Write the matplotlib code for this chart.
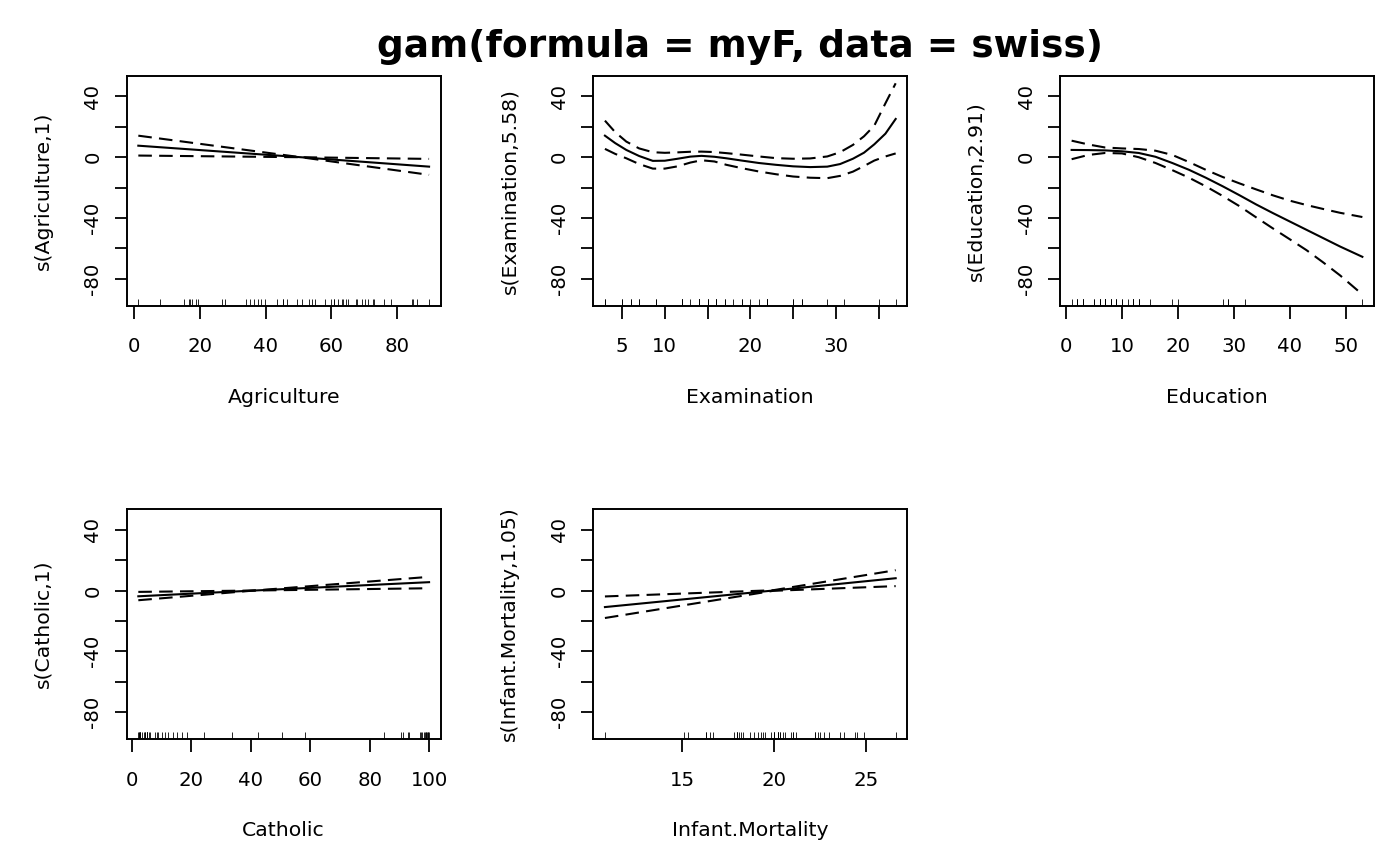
#!/usr/bin/env python3
# -*- coding: utf-8 -*-
# re-draw of mgcv plot.gam output for gam(myF, data=swiss)

import matplotlib
matplotlib.use("Agg")
import matplotlib.pyplot as plt
import matplotlib.transforms as mtransforms

###########################################################################
# data: covariates of the swiss data set (used for the rugs)

agriculture = [17.0, 45.1, 39.7, 36.5, 43.5, 35.3, 70.2, 67.8, 53.3, 45.2, 64.5, 62.0,
               67.5, 60.7, 69.3, 72.6, 34.0, 19.4, 15.2, 73.0, 59.8, 55.1, 50.9, 54.1,
               71.2, 58.1, 63.5, 60.8, 26.8, 49.5, 85.9, 84.9, 89.7, 78.2, 64.9, 75.9,
               84.6, 63.1, 38.4, 7.7, 16.7, 17.6, 37.6, 18.7, 1.2, 46.6, 27.7]
examination = [15, 6, 5, 12, 17, 9, 16, 14, 12, 16, 14, 21, 14, 19, 22, 18, 17, 26, 31,
               19, 22, 14, 22, 20, 12, 14, 6, 16, 25, 15, 3, 7, 5, 12, 7, 9, 3, 13, 26,
               29, 22, 35, 15, 25, 37, 16, 22]
education = [12, 9, 5, 7, 15, 7, 7, 8, 7, 13, 6, 12, 7, 12, 5, 2, 8, 28, 20, 9, 10, 3,
             12, 6, 1, 8, 3, 10, 19, 8, 2, 6, 2, 6, 3, 9, 3, 13, 12, 11, 13, 32, 7, 7,
             53, 29, 29]
catholic = [9.96, 84.84, 93.40, 33.77, 5.16, 90.57, 92.85, 97.16, 97.67, 91.38, 98.61,
            8.52, 2.27, 4.43, 2.82, 24.20, 3.30, 12.11, 2.15, 2.84, 5.23, 4.52, 15.14,
            4.20, 2.40, 5.23, 2.56, 7.72, 18.46, 6.10, 99.71, 99.68, 100.00, 98.96,
            98.22, 99.06, 99.46, 96.83, 5.62, 13.79, 11.22, 16.92, 4.97, 8.65, 42.34,
            50.43, 58.33]
infant_mortality = [22.2, 22.2, 20.2, 20.3, 20.6, 26.6, 23.6, 24.9, 21.0, 24.4, 24.5,
                    16.5, 19.1, 22.7, 18.7, 21.2, 20.0, 20.2, 10.8, 20.0, 18.0, 22.4,
                    16.7, 15.3, 21.0, 23.8, 18.0, 16.3, 20.9, 22.5, 15.1, 19.8, 18.3,
                    19.4, 20.2, 17.8, 16.3, 18.1, 20.3, 20.5, 18.9, 23.0, 20.0, 19.5,
                    18.0, 18.2, 19.3]

# smooth estimates: x, fit, fit+2se, fit-2se

agri_x = [1.2, 50.66, 89.7]
agri_fit = [7.6, 0.0, -6.2]
agri_up = [14.2, 0.0, -1.1]
agri_lo = [1.1, 0.0, -11.6]

exam_x = [3, 4.2, 5.5, 7, 8.6, 10, 11.5, 13, 14.3, 15.8, 17.2, 19, 21, 23, 25, 27, 29,
          30.5, 32, 33.3, 34.5, 35.8, 37]
exam_fit = [14.2, 9.3, 4.8, 0.8, -2.4, -2.3, -1.0, 0.4, 0.9, 0.3, -0.7, -2.2, -3.8,
            -5.0, -6.0, -6.5, -6.2, -4.5, -1.0, 3.0, 8.5, 15.5, 25.2]
exam_up = [24.1, 16.5, 10.3, 5.8, 3.3, 2.9, 3.2, 3.6, 3.7, 3.4, 2.7, 1.7, 0.5, -0.6,
           -1.0, -0.8, 0.5, 3.3, 8.1, 13.8, 20.8, 35.5, 48.7]
exam_lo = [5.5, 2.2, -0.7, -4.5, -7.5, -7.5, -6.0, -3.5, -2.0, -2.8, -5.0, -7.2, -9.4,
           -11.2, -12.7, -13.5, -13.8, -12.3, -9.5, -5.8, -2.2, 0.5, 2.5]

educ_x = [1, 4, 7, 10, 13, 16, 19, 22, 25, 28, 31, 34, 37, 40, 43, 46, 49, 53]
educ_fit = [4.8, 4.7, 4.5, 3.9, 2.8, 0.3, -3.8, -8.3, -13.5, -19.1, -25.0, -31.1,
            -36.8, -42.3, -47.8, -53.3, -58.8, -65.6]
educ_up = [10.9, 8.4, 6.4, 5.8, 5.4, 4.3, 1.5, -3.2, -8.3, -13.0, -17.2, -21.2, -25.1,
           -28.6, -31.5, -34.1, -36.6, -39.4]
educ_lo = [-1.3, 1.5, 2.8, 2.5, 0.0, -3.8, -8.5, -13.5, -19.2, -25.5, -32.2, -39.6,
           -46.9, -54.0, -61.2, -69.3, -77.8, -90.4]

cath_x = [2.15, 41.14, 100.0]
cath_fit = [-3.8, 0.0, 5.5]
cath_up = [-0.9, 0.0, 9.0]
cath_lo = [-6.4, 0.0, 1.5]

infm_x = [10.8, 19.94, 26.6]
infm_fit = [-10.9, 0.0, 8.1]
infm_up = [-3.9, 0.2, 13.4]
infm_lo = [-18.1, -0.2, 2.9]

# axis ticks / labels
y_ticks = [-80, -60, -40, -20, 0, 20, 40]
y_ticklabels = ['-80', '', '-40', '', '0', '', '40']

title = "gam(formula = myF, data = swiss)"

panels = [
    dict(name='Agriculture', ylab='s(Agriculture,1)', rug=agriculture,
         x=agri_x, fit=agri_fit, up=agri_up, lo=agri_lo,
         ticks=[0, 20, 40, 60, 80], labels=['0', '20', '40', '60', '80']),
    dict(name='Examination', ylab='s(Examination,5.58)', rug=examination,
         x=exam_x, fit=exam_fit, up=exam_up, lo=exam_lo,
         ticks=[5, 10, 15, 20, 25, 30, 35], labels=['5', '10', '', '20', '', '30', '']),
    dict(name='Education', ylab='s(Education,2.91)', rug=education,
         x=educ_x, fit=educ_fit, up=educ_up, lo=educ_lo,
         ticks=[0, 10, 20, 30, 40, 50], labels=['0', '10', '20', '30', '40', '50']),
    dict(name='Catholic', ylab='s(Catholic,1)', rug=catholic,
         x=cath_x, fit=cath_fit, up=cath_up, lo=cath_lo,
         ticks=[0, 20, 40, 60, 80, 100], labels=['0', '20', '40', '60', '80', '100']),
    dict(name='Infant.Mortality', ylab='s(Infant.Mortality,1.05)', rug=infant_mortality,
         x=infm_x, fit=infm_fit, up=infm_up, lo=infm_lo,
         ticks=[15, 20, 25], labels=['15', '20', '25']),
]

###########################################################################
# layout (pixels, measured on the 1400x866 reference)

W, H = 1400, 866
col_left = [126.7, 593.3, 1060.0]
col_width = 314.0
row_top = [75.7, 509.0]
row_height = 230.0

y_lim = (-97.8, 53.7)
line_w = 1.5
dash = (6.5, 3.5)

plt.rcParams.update({'font.family': 'DejaVu Sans'})
plt.rcParams.update({'xtick.labelsize': 14.2})
plt.rcParams.update({'ytick.labelsize': 14.2})
plt.rcParams.update({'axes.labelsize': 14.7})

fig = plt.figure(figsize=(W / 100, H / 100), dpi=100)

for i, p in enumerate(panels):
    r, c = divmod(i, 3)
    left = col_left[c] / W
    bottom = (H - row_top[r] - row_height) / H
    ax = fig.add_axes([left, bottom, col_width / W, row_height / H])

    # R style 4% extension of the data range
    xmin, xmax = min(p['rug']), max(p['rug'])
    ext = 0.04 * (xmax - xmin)
    ax.set_xlim(xmin - ext, xmax + ext)
    ax.set_ylim(*y_lim)

    ax.plot(p['x'], p['fit'], color='black', lw=line_w)
    ax.plot(p['x'], p['up'], color='black', lw=line_w, dashes=dash)
    ax.plot(p['x'], p['lo'], color='black', lw=line_w, dashes=dash)

    # rug along the bottom
    trans = mtransforms.blended_transform_factory(ax.transData, ax.transAxes)
    ax.vlines(p['rug'], 0, 0.03, transform=trans, color='black', lw=0.6)

    ax.set_xticks(p['ticks'])
    ax.set_xticklabels(p['labels'])
    ax.set_yticks(y_ticks)
    ax.set_yticklabels(y_ticklabels, rotation=90, va='center')

    ax.tick_params(axis='both', direction='out', length=9, width=1.3, color='black')
    ax.tick_params(axis='x', pad=13.8)
    ax.tick_params(axis='y', pad=8.6)
    for sp in ax.spines.values():
        sp.set_linewidth(1.4)

    ax.set_xlabel(p['name'], va='baseline')
    ax.xaxis.set_label_coords(0.5, -0.4225)
    ax.set_ylabel(p['ylab'], va='center', ha='center')
    ax.yaxis.set_label_coords(-0.2666, 0.5)

fig.text(740 / W, (H - 57) / H, title, ha='center', va='baseline',
         fontsize=27, fontweight='bold')

fig.savefig('out.png', dpi=100)
